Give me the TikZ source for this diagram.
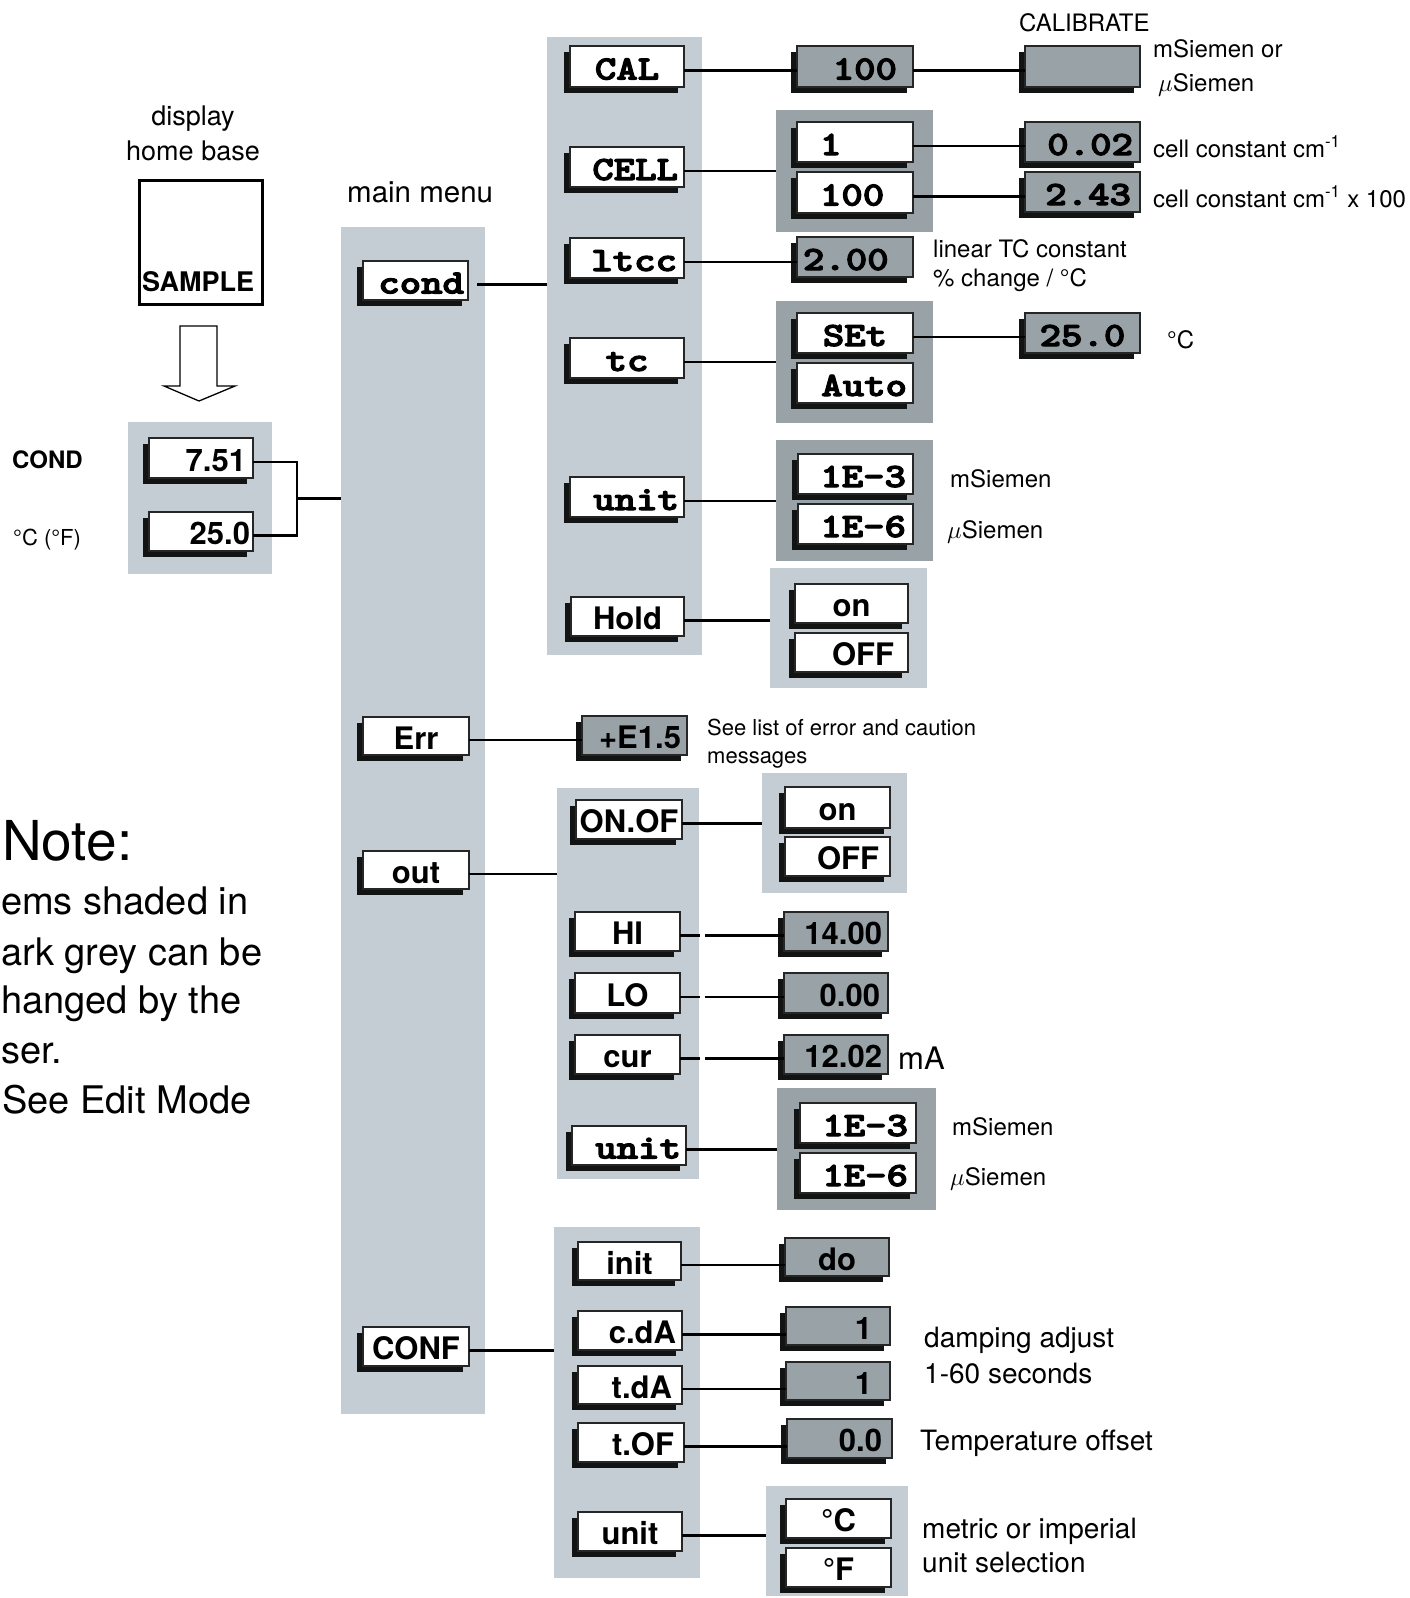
\documentclass[tikz,border=0pt]{standalone}
\usepackage{fontspec}
\setmainfont{TeX Gyre Heros}
\newfontfamily\monobf{lmmonolt10-bold.otf}[FakeBold=3]
\usepackage{graphicx}
\usetikzlibrary{shadows,calc}
\definecolor{lightp}{RGB}{197,205,212}
\definecolor{darkp}{RGB}{152,162,167}
\definecolor{shad}{RGB}{18,20,20}
\newcommand\lf[1]{\fontsize{#1}{#1}\selectfont}
\newcommand\mono[1]{\scalebox{1.2}[1]{\fontsize{34}{34}\monobf #1}}
\newcommand\sbold[1]{{\fontsize{31}{31}\selectfont\bfseries #1}}
\tikzset{
  panel/.style={fill=lightp,draw=none},
  dpanel/.style={fill=darkp,draw=none},
  box/.style={draw=black!85,line width=1.2pt,fill=white,inner sep=0pt,outer sep=0pt,
    text height=26pt,text depth=0pt,
    drop shadow={shadow xshift=-6pt,shadow yshift=-6pt,fill=shad,opacity=1}},
  vbox/.style={box,fill=darkp},
  conn/.style={line width=2.8pt,black},
  lab/.style={inner sep=0pt,anchor=base west,font=\lf{24}},
}
% name, x, y, w, h, style, align (l/c/r), pad, text
\newcommand\bx[9]{\node[#6,minimum width=#4pt,minimum height=#5pt,anchor=north west] (#1) at (#2,#3) {\makebox[#4pt][#7]{\if l#7\hspace*{#8pt}\fi#9\if r#7\hspace*{#8pt}\fi}};}
\newcommand\pnl[6]{\node[#6,minimum width=#4pt,minimum height=#5pt,anchor=north west,inner sep=0pt,outer sep=0pt] (#1) at (#2,#3) {};}
\newcommand\hconn[3][]{\path ([yshift=-4pt]#2.east) coordinate (tmpc); \draw[conn,#1] (tmpc) -- (tmpc -| #3.west);}
\newcommand\hconngap[2]{\path ([yshift=-4pt]#1.east) coordinate (tmpc); \draw[conn] (tmpc) -- (tmpc -| gapl); \draw[conn] (tmpc -| gapr) -- (tmpc -| #2.west);}
\begin{document}
\begin{tikzpicture}[x=1pt,y=-1pt]
\fill[white] (0,0) rectangle (1410,1598);
\useasboundingbox (0,0) rectangle (1410,1598);
% ---------- panels
\pnl{home}{128}{422}{144}{152}{panel}
\pnl{mainp}{341}{227}{144}{1187}{panel}
\pnl{condp}{547}{37}{155}{618}{panel}
\pnl{cellg}{776}{110}{157}{122}{dpanel}
\pnl{tcg}{776}{301}{157}{122}{dpanel}
\pnl{unitg}{776}{440}{157}{121}{dpanel}
\pnl{holdg}{770}{568}{157}{120}{panel}
\pnl{outp}{557}{788}{142}{391}{panel}
\pnl{onofg}{762}{773}{145}{120}{panel}
\pnl{ounitg}{777}{1088}{159}{122}{dpanel}
\pnl{confp}{554}{1227}{146}{351}{panel}
\pnl{ung}{766}{1486}{142}{110}{panel}
% ---------- home display
\node[font=\lf{27},anchor=base,inner sep=0pt] (tdisp) at (193,125) {display};
\node[font=\lf{27},anchor=base,inner sep=0pt] (thome) at (193,160) {home base};
\node[draw=black,line width=2.5pt,minimum width=123pt,minimum height=124pt,anchor=north west,inner sep=0pt] (sample) at (138,179) {};
\node[font=\lf{27}\bfseries,anchor=base west,inner sep=0pt] (samplet) at (142,291) {SAMPLE};
\draw[line width=1.3pt,fill=white] (180,326) -- (217,326) -- (217,386) -- (235,386) -- (199,401) -- (164,386) -- (180,386) -- cycle;
\node[lab,font=\lf{24}\bfseries] (tcond) at (12,468) {COND};
\node[lab,font=\lf{22}] (tdeg) at (13,545) {°C (°F)};
\bx{d751}{149}{438}{104}{40}{box}{r}{7}{\sbold{7.51}}
\bx{d250}{149}{512}{104}{39}{box}{r}{3}{\sbold{25.0}}
\node[lab,font=\lf{29.5}] (tmain) at (347,202) {main menu};
% ---------- main menu
\bx{mcond}{363}{261}{105}{39}{box}{r}{4}{\mono{cond}}
\bx{merr}{363}{717}{106}{38}{box}{c}{0}{\sbold{Err}}
\bx{mout}{363}{851}{106}{38}{box}{c}{0}{\sbold{out}}
\bx{mconf}{363}{1327}{106}{39}{box}{c}{0}{\sbold{CONF}}
% ---------- cond submenu
\bx{cal}{570}{46}{114}{41}{box}{c}{0}{\mono{CAL}}
\bx{cell}{570}{147}{114}{40}{box}{r}{6}{\mono{CELL}}
\bx{ltcc}{570}{238}{114}{40}{box}{r}{7}{\mono{ltcc}}
\bx{tc}{570}{338}{114}{40}{box}{c}{0}{\mono{tc}}
\bx{cunit}{570}{477}{114}{40}{box}{r}{5}{\mono{unit}}
\bx{hold}{571}{597}{113}{39}{box}{c}{0}{\sbold{Hold}}
\bx{v100}{797}{46}{116}{41}{vbox}{r}{16}{\mono{100}}
\bx{cel1}{797}{122}{116}{40}{box}{l}{23}{\mono{1}}
\bx{cel100}{797}{172}{116}{41}{box}{l}{23}{\mono{100}}
\bx{v200}{797}{237}{116}{40}{vbox}{l}{6}{\mono{2.00}}
\bx{set}{797}{313}{116}{40}{box}{c}{0}{\mono{SEt}}
\bx{auto}{797}{363}{116}{40}{box}{r}{6}{\mono{Auto}}
\bx{c1e3}{798}{454}{115}{40}{box}{r}{7}{\mono{1E-3}}
\bx{c1e6}{798}{504}{115}{40}{box}{r}{7}{\mono{1E-6}}
\bx{hon}{795}{584}{113}{39}{box}{c}{0}{\sbold{on}}
\bx{hoff}{795}{633}{113}{39}{box}{r}{14}{\sbold{OFF}}
\bx{calib}{1025}{46}{115}{41}{vbox}{c}{0}{}
\bx{v002}{1025}{122}{115}{40}{vbox}{r}{7}{\mono{0.02}}
\bx{v243}{1025}{172}{115}{40}{vbox}{r}{9}{\mono{2.43}}
\bx{v250}{1025}{313}{115}{40}{vbox}{c}{0}{\mono{25.0}}
% ---------- labels (cond)
\node[lab] (tcalib) at (1019,31) {CALIBRATE};
\node[lab] (tms1) at (1153,57) {mSiemen or};
\node[lab] (tus1) at (1158,91) {$\mu$Siemen};
\node[lab] (tcc1) at (1153,157) {cell constant cm\textsuperscript{-1}};
\node[lab] (tcc2) at (1153,207) {cell constant cm\textsuperscript{-1} x 100};
\node[lab] (tlin1) at (933,257) {linear TC constant};
\node[lab] (tlin2) at (933,286) {\% change / °C};
\node[lab] (tdc) at (1167,348) {°C};
\node[lab] (tms2) at (950,487) {mSiemen};
\node[lab] (tus2) at (947,538) {$\mu$Siemen};
% ---------- Err
\bx{verr}{582}{716}{105}{39}{vbox}{r}{6}{\sbold{+E1.5}}
\node[lab,font=\lf{22}] (terr1) at (707,735) {See list of error and caution};
\node[lab,font=\lf{22}] (terr2) at (707,763) {messages};
% ---------- out submenu
\bx{onof}{576}{800}{106}{39}{box}{c}{0}{\sbold{ON.OF}}
\bx{hi}{575}{912}{105}{39}{box}{c}{0}{\sbold{HI}}
\bx{lo}{575}{973}{105}{40}{box}{c}{0}{\sbold{LO}}
\bx{cur}{575}{1035}{105}{39}{box}{c}{0}{\sbold{cur}}
\bx{ounit}{572}{1126}{114}{39}{box}{r}{5}{\mono{unit}}
\bx{oon}{785}{787}{105}{41}{box}{c}{0}{\sbold{on}}
\bx{ooff}{785}{837}{105}{39}{box}{r}{11}{\sbold{OFF}}
\bx{vhi}{784}{912}{104}{39}{vbox}{r}{6}{\sbold{14.00}}
\bx{vlo}{784}{973}{104}{40}{vbox}{r}{8}{\sbold{0.00}}
\bx{vcur}{784}{1035}{104}{39}{vbox}{r}{6}{\sbold{12.02}}
\bx{o1e3}{800}{1103}{116}{40}{box}{r}{8}{\mono{1E-3}}
\bx{o1e6}{800}{1153}{116}{40}{box}{r}{8}{\mono{1E-6}}
\node[lab,font=\lf{31}] (tma) at (898,1069) {mA};
\node[lab] (tms3) at (952,1135) {mSiemen};
\node[lab] (tus3) at (950,1185) {$\mu$Siemen};
% ---------- CONF submenu
\bx{init}{578}{1242}{103}{38}{box}{c}{0}{\sbold{init}}
\bx{cda}{578}{1311}{104}{39}{box}{r}{6}{\sbold{c.dA}}
\bx{tda}{578}{1366}{104}{38}{box}{r}{10}{\sbold{t.dA}}
\bx{tof}{578}{1423}{106}{39}{box}{r}{10}{\sbold{t.OF}}
\bx{cunit2}{578}{1512}{104}{39}{box}{c}{0}{\sbold{unit}}
\bx{vdo}{785}{1238}{104}{38}{vbox}{c}{0}{\sbold{do}}
\bx{vcda}{786}{1307}{104}{38}{vbox}{r}{18}{\sbold{1}}
\bx{vtda}{786}{1362}{104}{38}{vbox}{r}{18}{\sbold{1}}
\bx{vtof}{787}{1419}{105}{39}{vbox}{r}{10}{\sbold{0.0}}
\bx{degc}{786}{1499}{105}{39}{box}{c}{0}{\sbold{°C}}
\bx{degf}{786}{1548}{105}{39}{box}{c}{0}{\sbold{°F}}
\node[lab,font=\lf{28}] (tdamp1) at (924,1347) {damping adjust};
\node[lab,font=\lf{28}] (tdamp2) at (924,1383) {1-60 seconds};
\node[lab,font=\lf{28}] (ttoff) at (920,1450) {Temperature offset};
\node[lab,font=\lf{28}] (tmet1) at (922,1538) {metric or imperial};
\node[lab,font=\lf{28}] (tmet2) at (922,1572) {unit selection};
% ---------- note (as printed, cut at the left edge in the reference)
\node[lab,font=\lf{55}] (note0) at (2,860) {Note:};
\node[lab,font=\lf{38}] (note1) at (1,914) {ems shaded in};
\node[lab,font=\lf{38}] (note2) at (1,965) {ark grey can be};
\node[lab,font=\lf{38}] (note3) at (1,1013) {hanged by the};
\node[lab,font=\lf{38}] (note4) at (1,1063) {ser.};
\node[lab,font=\lf{38}] (note5) at (2,1113) {See Edit Mode};
% ---------- connectors
\coordinate (gapl) at (700,0);
\coordinate (gapr) at (705,0);
\coordinate (bx) at (297,0);
\path ([yshift=-4pt]d751.east) coordinate (b1);
\path ([yshift=-4pt]d250.east) coordinate (b2);
\draw[conn] (b1) -- (b1 -| bx) -- (b2 -| bx) -- (b2);
\coordinate (bm) at ($(b1 -| bx)!0.5!(b2 -| bx)$);
\draw[conn] (bm) -- (bm -| mainp.west);
\hconn[shorten <=9pt]{mcond}{condp}
\hconn{merr}{verr}
\hconn{mout}{outp}
\hconn{mconf}{confp}
\hconn{cal}{v100}
\hconn{v100}{calib}
\hconn{cell}{cellg}
\hconn{cel1}{v002}
\hconn{cel100}{v243}
\hconn{ltcc}{v200}
\hconn{tc}{tcg}
\hconn{set}{v250}
\hconn{cunit}{unitg}
\hconn{hold}{holdg}
\hconn{onof}{onofg}
\hconngap{hi}{vhi}
\hconngap{lo}{vlo}
\hconngap{cur}{vcur}
\hconn{ounit}{ounitg}
\hconn{init}{vdo}
\hconn{cda}{vcda}
\hconn{tda}{vtda}
\hconn{tof}{vtof}
\hconn{cunit2}{ung}
\end{tikzpicture}
\end{document}
